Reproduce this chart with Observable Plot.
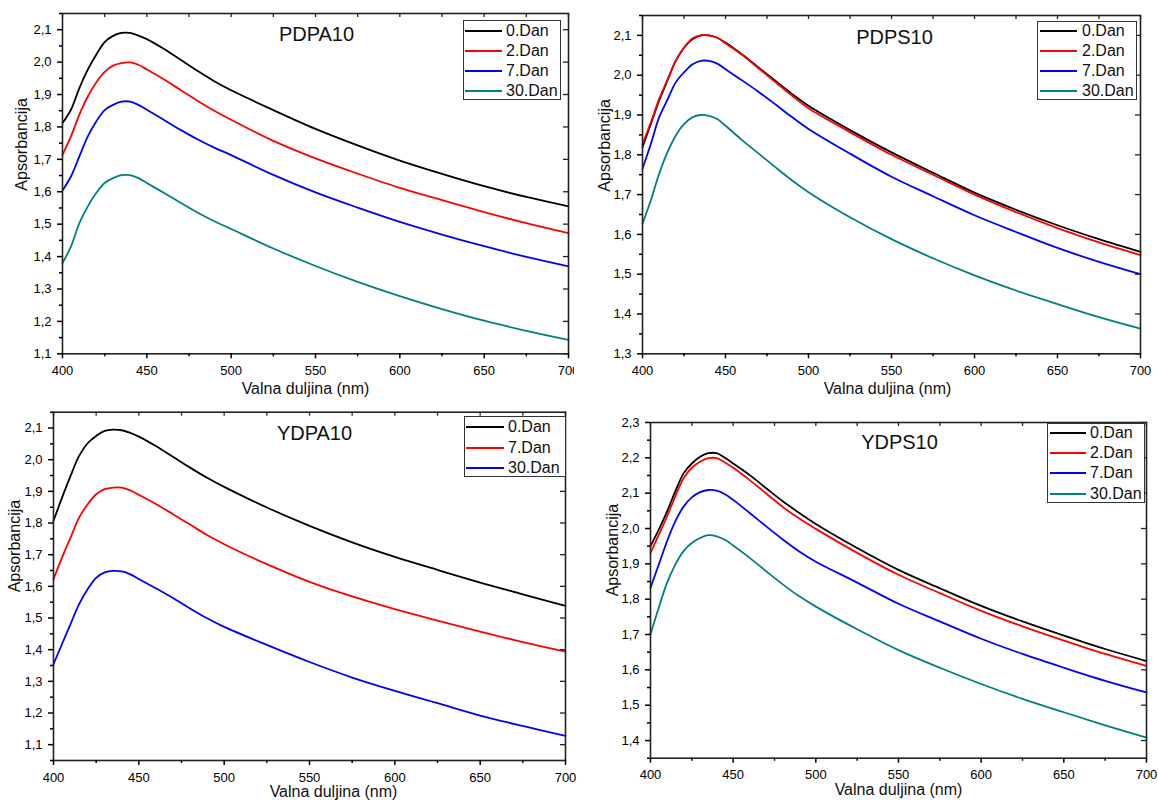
<!DOCTYPE html>
<html><head><meta charset="utf-8">
<script src="https://cdn.jsdelivr.net/npm/d3@7"></script>
<script src="https://cdn.jsdelivr.net/npm/@observablehq/plot@0.6"></script>
<style>
body{margin:0;background:#fff;}
#chart{position:relative;width:1158px;height:802px;overflow:hidden;background:#fff;font-family:"Liberation Sans",Arial,sans-serif;}
.legend{position:absolute;border:1px solid #333;background:#fff;box-sizing:border-box;}
.lg-line{position:absolute;height:2px;}
.lg-text{position:absolute;font-size:16px;line-height:20px;height:20px;color:#111;white-space:nowrap;}
</style></head><body><div id="chart"></div><script>
// ---------------- data ----------------
const wavelength = [400,405,410,415,420,425,430,435,440,445,450,460,470,480,490,500,525,550,575,600,625,650,675,700];
const xTicks = [400,450,500,550,600,650,700];
const xMinorTicks = [425,475,525,575,625,675];
const labels4 = ["0.Dan","2.Dan","7.Dan","30.Dan"];
const labels3 = ["0.Dan","7.Dan","30.Dan"];
const lineColors = ["#000000","#ff0000","#0000ff","#008080"];

// PDPA10
const pdpa10_day0  = [1.812,1.853,1.920,1.977,2.023,2.062,2.081,2.090,2.090,2.082,2.071,2.041,2.007,1.973,1.941,1.913,1.852,1.794,1.743,1.696,1.655,1.617,1.584,1.555];
const pdpa10_day2  = [1.714,1.771,1.838,1.894,1.937,1.970,1.989,1.997,1.999,1.992,1.977,1.947,1.914,1.881,1.850,1.822,1.757,1.703,1.656,1.612,1.574,1.537,1.503,1.472];
const pdpa10_day7  = [1.604,1.647,1.709,1.771,1.817,1.852,1.868,1.878,1.878,1.868,1.853,1.822,1.791,1.762,1.736,1.713,1.652,1.598,1.551,1.507,1.468,1.432,1.399,1.370];
const pdpa10_day30 = [1.380,1.431,1.503,1.555,1.596,1.627,1.642,1.651,1.651,1.642,1.627,1.597,1.566,1.536,1.509,1.485,1.425,1.371,1.322,1.278,1.238,1.202,1.171,1.143];
// PDPS10
const pdps10_day0  = [1.819,1.877,1.936,1.986,2.036,2.069,2.090,2.100,2.100,2.094,2.082,2.052,2.019,1.986,1.953,1.923,1.862,1.806,1.755,1.705,1.662,1.623,1.588,1.556];
const pdps10_day2  = [1.827,1.881,1.940,1.988,2.036,2.069,2.092,2.100,2.100,2.094,2.080,2.051,2.017,1.983,1.949,1.917,1.857,1.800,1.750,1.700,1.656,1.616,1.580,1.548];
const pdps10_day7  = [1.765,1.827,1.894,1.938,1.982,2.007,2.027,2.036,2.036,2.029,2.015,1.987,1.958,1.927,1.895,1.865,1.803,1.745,1.696,1.648,1.606,1.566,1.531,1.500];
const pdps10_day30 = [1.627,1.685,1.752,1.806,1.848,1.877,1.894,1.900,1.898,1.890,1.873,1.837,1.803,1.769,1.736,1.706,1.643,1.588,1.540,1.497,1.459,1.425,1.392,1.363];
// YDPA10
const ydpa10_day0  = [1.807,1.880,1.949,2.012,2.052,2.075,2.091,2.095,2.093,2.085,2.073,2.043,2.009,1.975,1.943,1.914,1.849,1.791,1.739,1.693,1.652,1.612,1.575,1.538];
const ydpa10_day7  = [1.623,1.691,1.754,1.817,1.859,1.891,1.907,1.912,1.912,1.903,1.889,1.860,1.828,1.795,1.762,1.733,1.670,1.614,1.568,1.528,1.492,1.457,1.424,1.394];
const ydpa10_day30 = [1.354,1.418,1.481,1.544,1.591,1.627,1.644,1.649,1.647,1.638,1.623,1.594,1.563,1.530,1.499,1.472,1.415,1.361,1.312,1.270,1.231,1.192,1.159,1.128];
// YDPS10
const ydps10_day0  = [1.950,1.997,2.048,2.105,2.156,2.184,2.203,2.213,2.213,2.200,2.184,2.151,2.114,2.077,2.044,2.013,1.945,1.883,1.831,1.781,1.737,1.697,1.659,1.625];
const ydps10_day2  = [1.931,1.982,2.034,2.091,2.142,2.172,2.189,2.199,2.199,2.187,2.172,2.137,2.099,2.061,2.028,1.999,1.931,1.869,1.817,1.767,1.723,1.683,1.645,1.611];
const ydps10_day7  = [1.832,1.898,1.964,2.020,2.062,2.088,2.103,2.109,2.107,2.097,2.081,2.044,2.006,1.969,1.935,1.906,1.847,1.787,1.737,1.688,1.645,1.606,1.569,1.536];
const ydps10_day30 = [1.701,1.776,1.846,1.898,1.936,1.959,1.973,1.981,1.978,1.968,1.952,1.917,1.879,1.842,1.808,1.779,1.715,1.656,1.606,1.560,1.518,1.480,1.443,1.408];

const pdpa10_yTicks = [1.1,1.2,1.3,1.4,1.5,1.6,1.7,1.8,1.9,2.0,2.1];
const pdps10_yTicks = [1.3,1.4,1.5,1.6,1.7,1.8,1.9,2.0,2.1];
const ydpa10_yTicks = [1.1,1.2,1.3,1.4,1.5,1.6,1.7,1.8,1.9,2.0,2.1];
const ydps10_yTicks = [1.4,1.5,1.6,1.7,1.8,1.9,2.0,2.1,2.2,2.3];

const yTitle = "Apsorbancija";
const xTitle = "Valna duljina (nm)";

// ---------------- layout ----------------
const panels = [
  {title:"PDPA10", labels:labels4, series:[pdpa10_day0,pdpa10_day2,pdpa10_day7,pdpa10_day30], yTicks:pdpa10_yTicks, yDomain:[1.1,2.15],
   left:0, top:0, width:574, height:400, mL:62, mR:6, mT:13, mB:46.7,
   ylab:{dx:-41, dy:7}, xlab:{dx:-10, dy:35}, tt:{dx:1, dy:21},
   legend:{x0:463, x1:561, y0:20, y1:100, rows:[30.7,50.7,70.7,90.7], l0:465, l1:502, tx:506}},
  {title:"PDPS10", labels:labels4, series:[pdps10_day0,pdps10_day2,pdps10_day7,pdps10_day30], yTicks:pdps10_yTicks, yDomain:[1.3,2.15],
   left:580, top:0, width:578, height:400, mL:62, mR:18, mT:15, mB:46.7,
   ylab:{dx:-37.5, dy:7}, xlab:{dx:-4, dy:35}, tt:{dx:3, dy:22.5},
   legend:{x0:1037, x1:1137, y0:20.5, y1:100, rows:[30.7,50.7,70.7,90.7], l0:1040, l1:1077, tx:1082}},
  {title:"YDPA10", labels:labels3, series:[ydpa10_day0,ydpa10_day7,ydpa10_day30], yTicks:ydpa10_yTicks, yDomain:[1.05,2.15],
   left:0, top:400, width:579, height:402, mL:53, mR:14, mT:11.7, mB:42,
   ylab:{dx:-39, dy:6}, xlab:{dx:24, dy:31.5}, tt:{dx:5, dy:21.8},
   legend:{x0:464, x1:566, y0:416, y1:477, rows:[427,447.5,468], l0:466, l1:504, tx:508}},
  {title:"YDPS10", labels:labels4, series:[ydps10_day0,ydps10_day2,ydps10_day7,ydps10_day30], yTicks:ydps10_yTicks, yDomain:[1.35,2.3],
   left:580, top:400, width:578, height:402, mL:70, mR:12, mT:22, mB:44.3,
   ylab:{dx:-38, dy:6}, xlab:{dx:0, dy:32}, tt:{dx:1, dy:20.5},
   legend:{x0:1047, x1:1145, y0:422.7, y1:502.7, rows:[432.7,453.3,473.3,494], l0:1050, l1:1086, tx:1090}}
];

const chart = document.getElementById("chart");
const fmtY = d => d.toFixed(1).replace(".", ",");
const axisColor = "#222";

for (const p of panels) {
  const rows = [];
  p.series.forEach((vals, i) => {
    vals.forEach((v, j) => rows.push({wl: wavelength[j], v, day: p.labels[i]}));
  });
  const yMinor = [];
  for (let k = 0; k < p.yTicks.length; k++) {
    const m = +(p.yTicks[k] + 0.05).toFixed(2);
    if (m <= p.yDomain[1] + 1e-9) yMinor.push(m);
  }
  const bottomMinor = +(p.yTicks[0] - 0.05).toFixed(2);
  if (bottomMinor >= p.yDomain[0] - 1e-9) yMinor.unshift(bottomMinor);
  const plotW = p.width - p.mL - p.mR;
  const plotH = p.height - p.mT - p.mB;
  const allX = xTicks.concat(xMinorTicks);

  const svg = Plot.plot({
    width: p.width, height: p.height,
    marginLeft: p.mL, marginRight: p.mR, marginTop: p.mT, marginBottom: p.mB,
    style: {fontFamily: '"Liberation Sans", Arial, sans-serif', fontSize: "13px", color: "#000", background: "transparent"},
    x: {domain: [400, 700]},
    y: {domain: p.yDomain},
    color: {domain: p.labels, range: lineColors.slice(0, p.labels.length)},
    marks: [
      Plot.line(rows, {x: "wl", y: "v", z: "day", stroke: "day", strokeWidth: 1.8, curve: "catmull-rom"}),
      Plot.frame({stroke: axisColor, strokeWidth: 1.6}),
      Plot.axisX({ticks: xTicks, tickSize: 5, tickPadding: 7, tickFormat: d => String(d), label: null, strokeWidth: 1.5, fontSize: 13}),
      Plot.axisX({ticks: xMinorTicks, tickSize: 3, tickFormat: () => "", label: null, strokeWidth: 1.5}),
      Plot.axisY({ticks: p.yTicks, tickSize: 5, tickPadding: 6, tickFormat: fmtY, label: null, strokeWidth: 1.5, fontSize: 13}),
      Plot.axisY({ticks: yMinor, tickSize: 3, tickFormat: () => "", label: null, strokeWidth: 1.5}),
      Plot.tickX(allX, {x: d => d, insetBottom: plotH - 4, stroke: axisColor, strokeWidth: 1.3}),
      Plot.tickY(p.yTicks, {y: d => d, insetLeft: plotW - 5, stroke: axisColor, strokeWidth: 1.3}),
      Plot.text([p.title], {text: d => d, frameAnchor: "top", dx: p.tt.dx, dy: p.tt.dy, fontSize: 20, lineAnchor: "middle", fill: "#111"}),
      Plot.text([yTitle], {text: d => d, frameAnchor: "left", dx: p.ylab.dx, dy: p.ylab.dy, rotate: -90, fontSize: 16, lineAnchor: "middle", fill: "#111"}),
      Plot.text([xTitle], {text: d => d, frameAnchor: "bottom", dx: p.xlab.dx, dy: p.xlab.dy, fontSize: 16, lineAnchor: "middle", fill: "#111"})
    ]
  });
  svg.style.position = "absolute";
  svg.style.left = p.left + "px";
  svg.style.top = p.top + "px";
  svg.style.overflow = "hidden";
  chart.appendChild(svg);

  // legend box
  const L = p.legend;
  const box = document.createElement("div");
  box.className = "legend";
  box.style.left = L.x0 + "px"; box.style.top = L.y0 + "px";
  box.style.width = (L.x1 - L.x0) + "px"; box.style.height = (L.y1 - L.y0) + "px";
  chart.appendChild(box);
  p.labels.forEach((lab, i) => {
    const ln = document.createElement("div");
    ln.className = "lg-line";
    ln.style.left = L.l0 + "px"; ln.style.width = (L.l1 - L.l0) + "px";
    ln.style.top = (L.rows[i] - 1) + "px";
    ln.style.background = lineColors[i];
    chart.appendChild(ln);
    const tx = document.createElement("div");
    tx.className = "lg-text";
    tx.style.left = L.tx + "px"; tx.style.top = (L.rows[i] - 10) + "px";
    tx.textContent = lab;
    chart.appendChild(tx);
  });
}
</script></body></html>
